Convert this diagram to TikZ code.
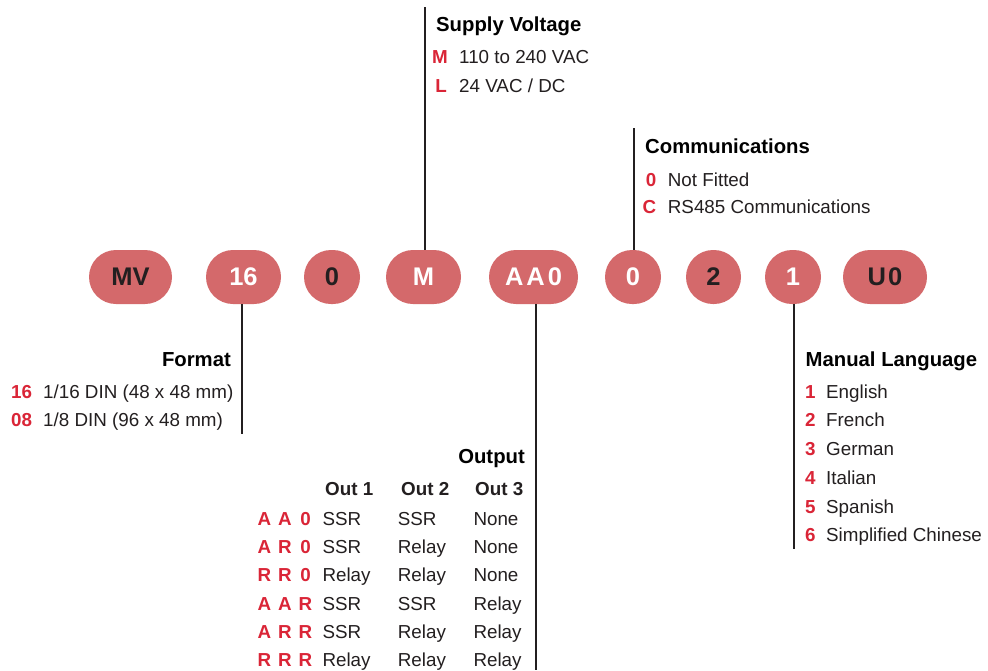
\documentclass[tikz,border=0pt]{standalone}
\usepackage{fontspec}
\setmainfont{Liberation Sans}
\definecolor{pillc}{HTML}{D4696B}
\definecolor{ink}{HTML}{231F20}
\definecolor{codered}{HTML}{DA2537}
\tikzset{
  pillbox/.style={fill=pillc, draw=none, rounded corners=27pt, minimum height=54pt, inner sep=0pt, font=\fontsize{25.5}{25.5}\selectfont\bfseries},
  dk/.style={text=ink},
  wt/.style={text=white},
  conn/.style={draw=ink, line width=2.2pt},
  ttl/.style={inner sep=0pt, font=\fontsize{20.3}{24}\selectfont\bfseries, text=black},
  txt/.style={inner sep=0pt, font=\fontsize{18.8}{22}\selectfont, text=ink},
  codetxt/.style={inner sep=0pt, font=\fontsize{18.8}{22}\selectfont\bfseries, text=codered},
  hdr/.style={inner sep=0pt, font=\fontsize{18.8}{22}\selectfont\bfseries, text=ink},
}
\begin{document}
\begin{tikzpicture}[x=1pt,y=-1pt]
\useasboundingbox[fill=white] (0,0) rectangle (988,670);

% code pills
\node[pillbox, dk, minimum width=83pt] (pMV) at (130.5,277) {MV};
\node[pillbox, wt, minimum width=75pt] (p16) at (243.5,277) {16};
\node[pillbox, dk, minimum width=56pt] (p0a) at (332,277) {0};
\node[pillbox, wt, minimum width=75pt] (pM) at (423.5,277) {M};
\node[pillbox, wt, minimum width=89pt] (pAA) at (533.5,277) {A\kern3pt A\kern3pt 0};
\node[pillbox, wt, minimum width=56pt] (p0b) at (633,277) {0};
\node[pillbox, dk, minimum width=55pt] (p2) at (713.5,277) {2};
\node[pillbox, wt, minimum width=56pt] (p1) at (793,277) {1};
\node[pillbox, dk, minimum width=84pt] (pU) at (885,277) {U\kern2pt 0};

% connectors
\coordinate (supTop) at (425,7);
\coordinate (comTop) at (634.3,128);
\coordinate (fmtBot) at (242,434);
\coordinate (outBot) at (536,670);
\coordinate (lanBot) at (794,549);
\draw[conn] (supTop) -- (supTop |- pM.north);
\draw[conn] (comTop) -- (comTop |- p0b.north);
\draw[conn] (fmtBot |- p16.south) -- (fmtBot);
\draw[conn] (outBot |- pAA.south) -- (outBot);
\draw[conn] (lanBot |- p1.south) -- (lanBot);

% Supply Voltage
\node[ttl, anchor=base west] (supT) at (436,31.7) {Supply Voltage};
\node[codetxt, anchor=base] (supc1) at (440,63.3) {M};
\node[txt, anchor=base west] (supt1) at (459,63.3) {110 to 240 VAC};
\node[codetxt, anchor=base] (supc2) at (441,92.3) {L};
\node[txt, anchor=base west] (supt2) at (459,92.3) {24 VAC / DC};

% Communications
\node[ttl, anchor=base west] (comT) at (645,153.3) {Communications};
\node[codetxt, anchor=base] (comc1) at (651,186) {0};
\node[txt, anchor=base west] (comt1) at (667.7,186) {Not Fitted};
\node[codetxt, anchor=base] (comc2) at (649.5,213.8) {C};
\node[txt, anchor=base west] (comt2) at (667.7,213.8) {RS485 Communications};

% Format
\node[ttl, anchor=base east] (fmtT) at (231,366) {Format};
\node[codetxt, anchor=base west] (fmtc1) at (11,398) {16};
\node[txt, anchor=base west] (fmtt1) at (43,398) {1/16 DIN (48 x 48 mm)};
\node[codetxt, anchor=base west] (fmtc2) at (11,426.5) {08};
\node[txt, anchor=base west] (fmtt2) at (43,426.5) {1/8 DIN (96 x 48 mm)};

% Manual Language
\node[ttl, anchor=base west] (lanT) at (805.5,366) {Manual Language};
\foreach \n/\l [count=\i from 0] in {1/English,2/French,3/German,4/Italian,5/Spanish,6/Simplified Chinese}{
  \pgfmathsetmacro\yy{398.3+28.68*\i}
  \node[codetxt, anchor=base west] (lanc\i) at (805,\yy) {\n};
  \node[txt, anchor=base west] (lant\i) at (826,\yy) {\l};
}

% Output
\node[ttl, anchor=base east] (outT) at (525,463) {Output};
\node[hdr, anchor=base west] (oh1) at (325,495) {Out 1};
\node[hdr, anchor=base west] (oh2) at (401,495) {Out 2};
\node[hdr, anchor=base west] (oh3) at (475,495) {Out 3};
\foreach \a/\b/\c/\o/\p/\q [count=\i from 0] in {A/A/0/SSR/SSR/None, A/R/0/SSR/Relay/None, R/R/0/Relay/Relay/None, A/A/R/SSR/SSR/Relay, A/R/R/SSR/Relay/Relay, R/R/R/Relay/Relay/Relay}{
  \pgfmathsetmacro\yy{525+28.35*\i}
  \node[codetxt, anchor=base] (oca\i) at (264.5,\yy) {\a};
  \node[codetxt, anchor=base] (ocb\i) at (285,\yy) {\b};
  \node[codetxt, anchor=base] (occ\i) at (305.5,\yy) {\c};
  \node[txt, anchor=base west] (oo\i) at (322.3,\yy) {\o};
  \node[txt, anchor=base west] (op\i) at (397.7,\yy) {\p};
  \node[txt, anchor=base west] (oq\i) at (473.3,\yy) {\q};
}
\end{tikzpicture}
\end{document}
